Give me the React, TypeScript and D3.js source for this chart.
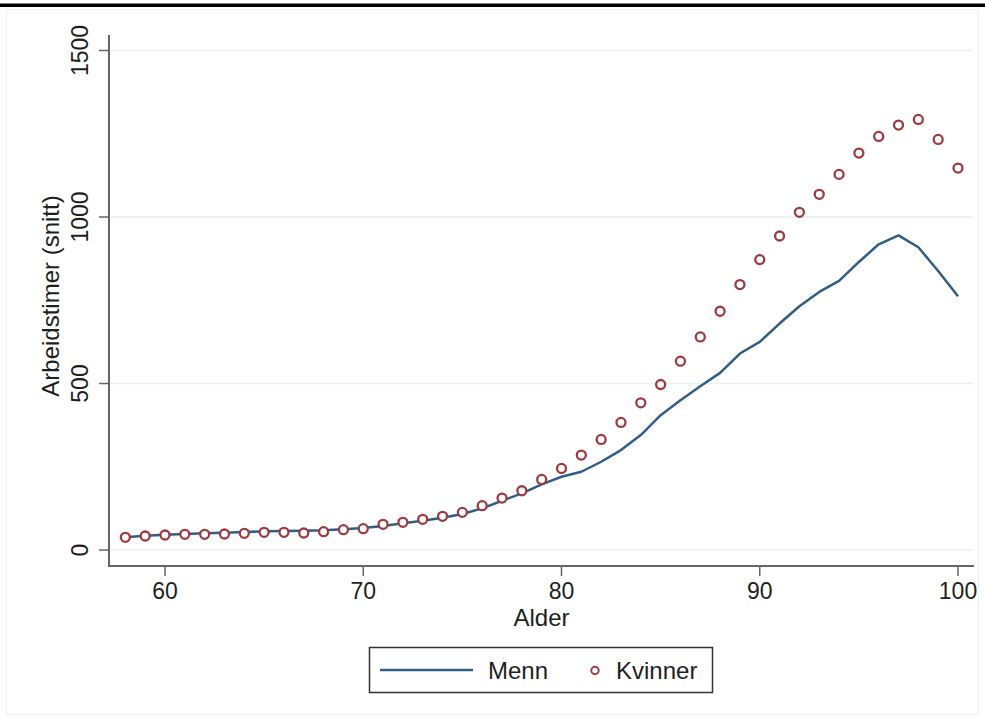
import React from 'react';
import * as d3 from 'd3';

// Alder 58-100
const ages = d3.range(58, 101);

// Arbeidstimer (snitt), menn
const menn = [
  38, 43, 46, 48, 50, 52, 54, 56, 57, 58, 59, 62, 66, 72, 80, 88, 97, 108, 125, 148,
  170, 197, 220, 235, 265, 300, 345, 405, 450, 492, 532, 590, 625, 680, 732, 775,
  808, 865, 918, 945, 909, 838, 762,
];

// Arbeidstimer (snitt), kvinner
const kvinner = [
  38, 42, 45, 47, 47, 48, 50, 53, 53, 51, 55, 61, 64, 77, 83, 92, 101, 113, 133, 156,
  178, 212, 245, 285, 332, 383, 442, 497, 567, 640, 717, 797, 872, 943, 1014, 1068,
  1128, 1192, 1242, 1276, 1293, 1233, 1147,
];

const xTicks = [60, 70, 80, 90, 100];
const yTicks = [0, 500, 1000, 1500];

const W = 985;
const H = 717;
const font = "'Liberation Sans', Arial, Helvetica, sans-serif";
const navy = '#305d86';
const maroon = '#9c3b41';
const axisColor = '#666';
const textColor = '#1e1e1e';

export default function App() {
  const x = d3.scaleLinear().domain([60, 100]).range([165, 958]);
  const y = d3.scaleLinear().domain([0, 1500]).range([550, 50.5]);

  // plot region edges
  const left = 109;
  const right = 974;
  const bottom = 566;
  const top = 35;

  const line = d3
    .line<number>()
    .x((_, i) => x(ages[i]))
    .y((d) => y(d));

  return (
    <svg
      width={W}
      height={H}
      style={{ position: 'absolute', left: 0, top: 0, background: '#fff' }}
      fontFamily={font}
    >
      <rect x={0} y={3.5} width={W} height={3.5} fill="#000" />
      <rect x={6.5} y={9.5} width={W - 13} height={H - 12} fill="none" stroke="#f0f0f0" />

      {/* gridlines */}
      {yTicks.map((t) => (
        <line key={'g' + t} x1={left + 1} x2={right - 1} y1={y(t)} y2={y(t)} stroke="#e8f0f1" strokeWidth={1.5} />
      ))}

      {/* axes */}
      <line x1={left} x2={left} y1={top} y2={bottom + 1} stroke={axisColor} strokeWidth={2} />
      <line x1={left - 1} x2={right} y1={bottom} y2={bottom} stroke={axisColor} strokeWidth={2} />

      {yTicks.map((t) => (
        <g key={'y' + t}>
          <line x1={left - 10} x2={left} y1={y(t)} y2={y(t)} stroke={axisColor} strokeWidth={1.5} />
          <text
            transform={`translate(88,${y(t)}) rotate(-90)`}
            textAnchor="middle"
            fontSize={23}
            fill={textColor}
          >
            {t}
          </text>
        </g>
      ))}

      {xTicks.map((t) => (
        <g key={'x' + t}>
          <line x1={x(t)} x2={x(t)} y1={bottom} y2={bottom + 10} stroke={axisColor} strokeWidth={1.5} />
          <text x={x(t)} y={599} textAnchor="middle" fontSize={23} fill={textColor}>
            {t}
          </text>
        </g>
      ))}

      <text x={(left + right) / 2} y={626} textAnchor="middle" fontSize={24} fill={textColor}>
        Alder
      </text>
      <text transform="translate(59,296) rotate(-90)" textAnchor="middle" fontSize={24} fill={textColor}>
        Arbeidstimer (snitt)
      </text>

      {/* Menn */}
      <path d={line(menn) || ''} fill="none" stroke={navy} strokeWidth={2.5} strokeLinejoin="round" />

      {/* Kvinner */}
      {kvinner.map((v, i) => (
        <circle key={i} cx={x(ages[i])} cy={y(v)} r={4.5} fill="#fff" stroke={maroon} strokeWidth={2.3} />
      ))}

      {/* legend */}
      <rect x={369.5} y={647.5} width={343} height={45} fill="#fff" stroke="#333" strokeWidth={1.5} />
      <line x1={380} x2={473} y1={670} y2={670} stroke={navy} strokeWidth={2.5} />
      <text x={488} y={678.5} fontSize={24} fill={textColor}>
        Menn
      </text>
      <circle cx={595} cy={670.5} r={3.7} fill="#fff" stroke={maroon} strokeWidth={2} />
      <text x={616} y={678.5} fontSize={24} fill={textColor}>
        Kvinner
      </text>
    </svg>
  );
}
